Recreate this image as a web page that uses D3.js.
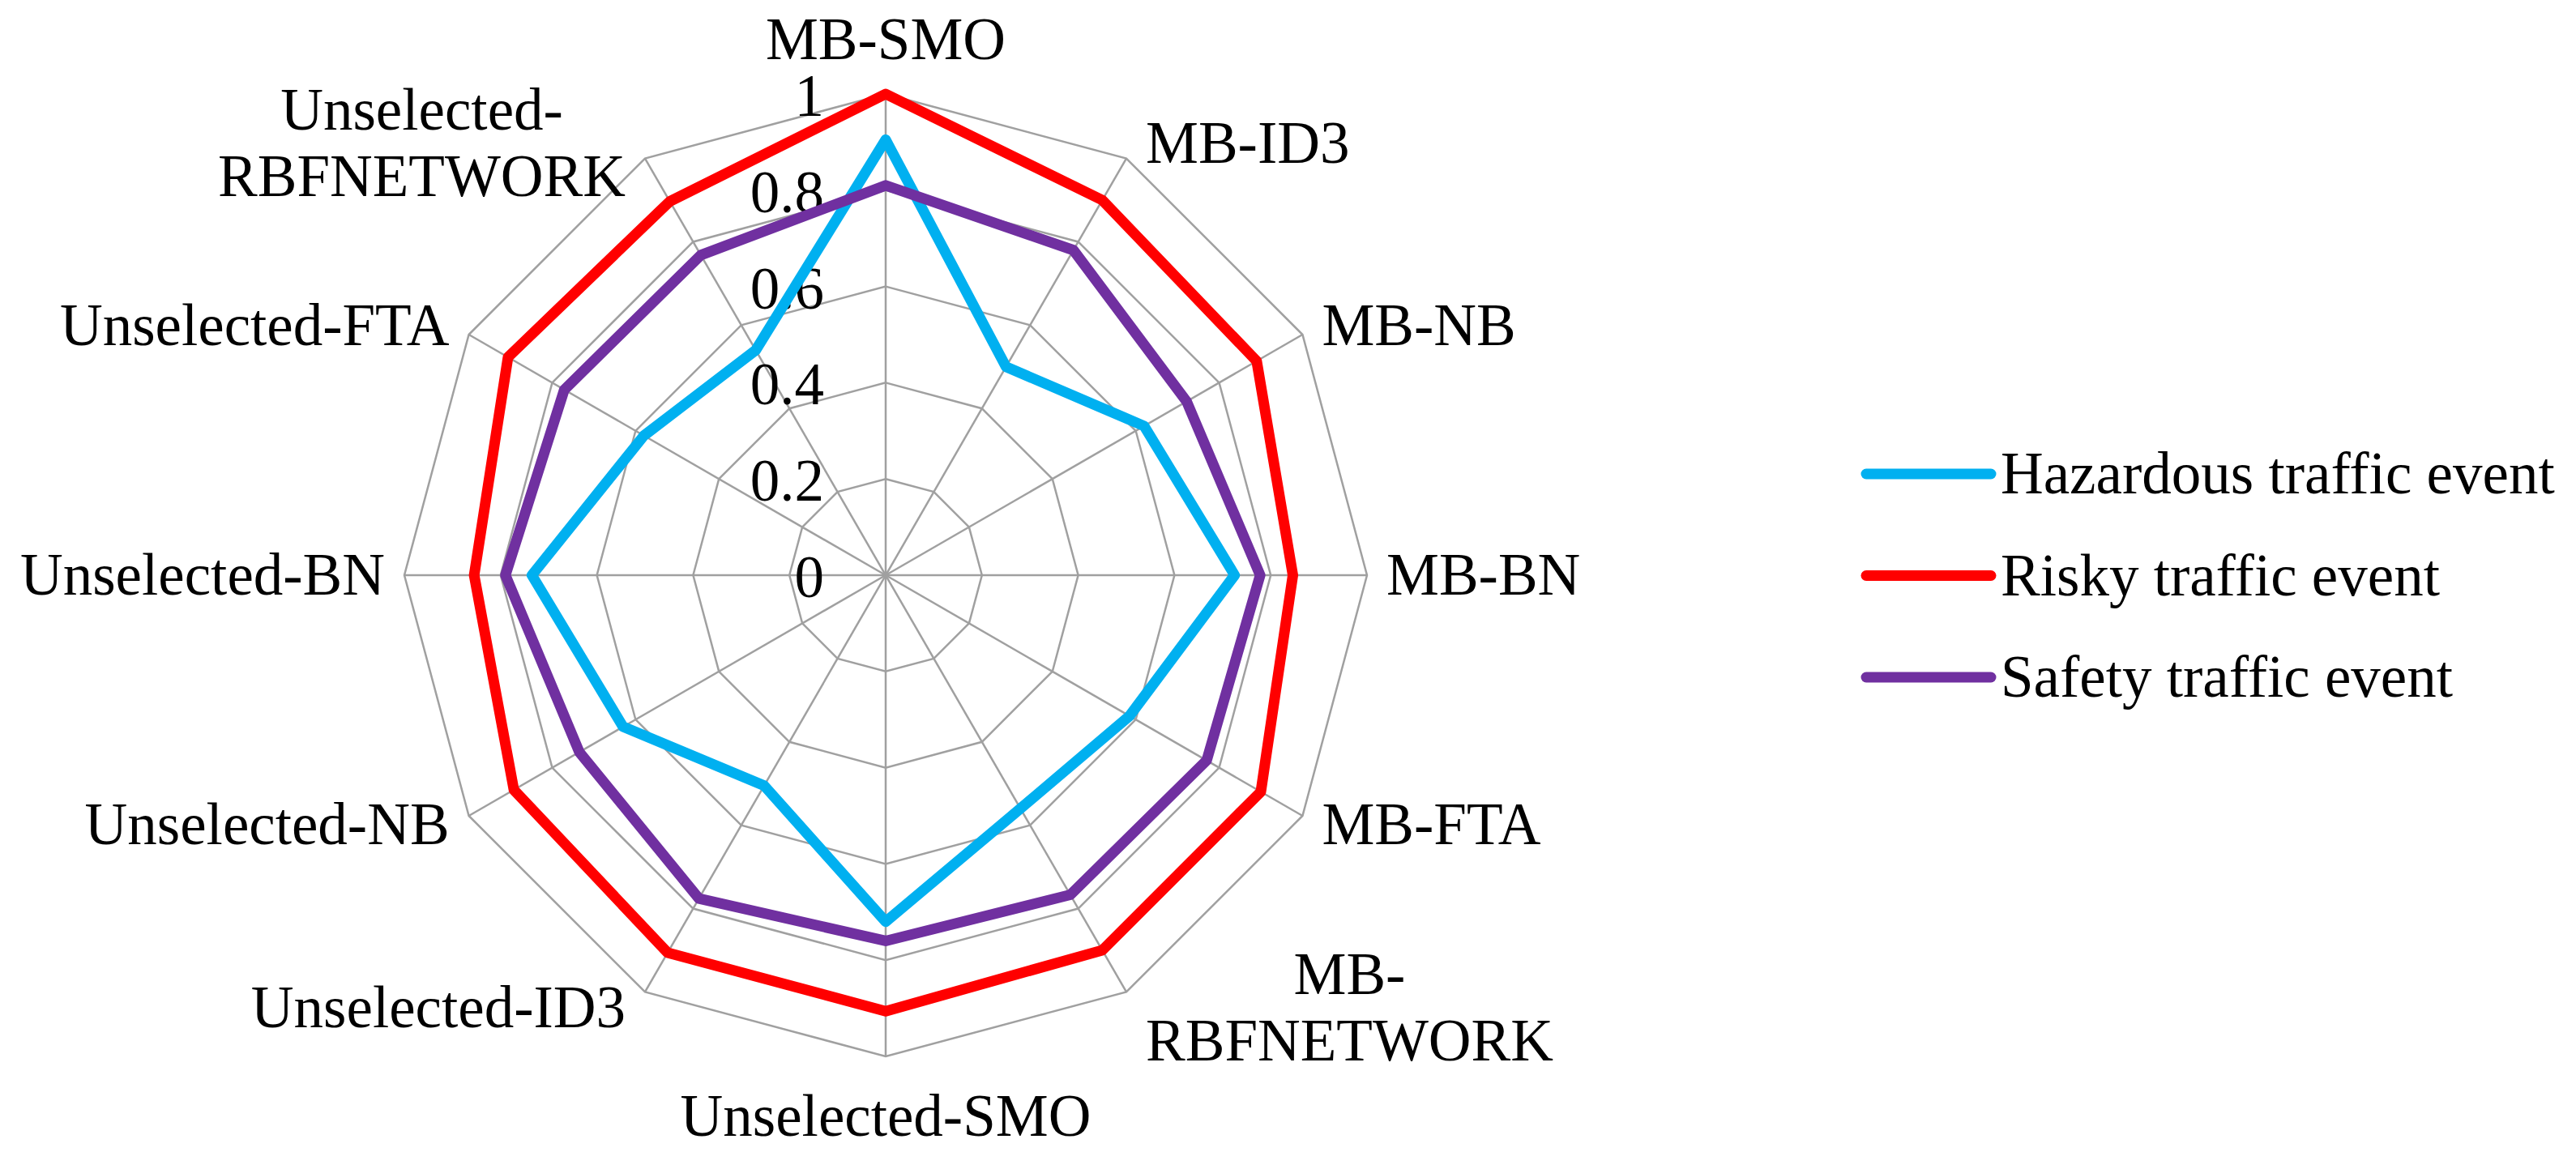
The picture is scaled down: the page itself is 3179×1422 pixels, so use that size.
<!DOCTYPE html>
<html>
<head>
<meta charset="utf-8">
<script src="https://cdn.jsdelivr.net/npm/d3@7"></script>
<style>
  body { margin: 0; background: #fff; }
  text { font-family: "Times New Roman", "Liberation Serif", serif; fill: #000; }
</style>
</head>
<body>
<div id="chart"></div>
<script>
//radar chart of the three traffic event classes, one axis per classifier

//categories, clockwise from the top
var categories = ["MB-SMO", "MB-ID3", "MB-NB", "MB-BN", "MB-FTA", "MB-RBFNETWORK",
  "Unselected-SMO", "Unselected-ID3", "Unselected-NB", "Unselected-BN", "Unselected-FTA", "Unselected-RBFNETWORK"];

//series values
var hazardous = [0.905, 0.50, 0.62, 0.725, 0.585, 0.56, 0.72, 0.505, 0.63, 0.735, 0.58, 0.54];
var risky     = [1.00, 0.90, 0.89, 0.846, 0.90, 0.90, 0.906, 0.906, 0.892, 0.855, 0.906, 0.897];
var safety    = [0.81, 0.78, 0.722, 0.778, 0.77, 0.767, 0.76, 0.776, 0.735, 0.79, 0.771, 0.768];

var seriesNames = ["Hazardous traffic event", "Risky traffic event", "Safety traffic event"];
var seriesColors = ["#00B0F0", "#FF0000", "#7030A0"];

//radial tick values and their labels
var ticks = [0, 0.2, 0.4, 0.6, 0.8, 1];
var tickLabels = ["0", "0.2", "0.4", "0.6", "0.8", "1"];

//sizes
var W = 3179, H = 1422;
var cx = 1093, cy = 710, R = 594;
var fontSize = 73;
var lineW = 13;

var svg = d3.select("#chart").append("svg")
  .attr("width", W).attr("height", H)
  .style("display", "block");

var rScale = d3.scaleLinear().domain([0, 1]).range([0, R]);
var angle = d3.scaleLinear().domain([0, categories.length]).range([0, 2 * Math.PI]);

var g = svg.append("g").attr("transform", "translate(" + cx + "," + cy + ")");

function pt(i, v) {
  var a = angle(i);
  return [rScale(v) * Math.sin(a), -rScale(v) * Math.cos(a)];
}

//grid rings
var ring = d3.lineRadial()
  .angle(function(d, i) { return angle(i); })
  .radius(function(d) { return rScale(d); })
  .curve(d3.curveLinearClosed);

g.selectAll("path.ring")
  .data(ticks.slice(1)).enter()
  .append("path")
    .attr("class", "ring")
    .attr("d", function(t) { return ring(categories.map(function() { return t; })); })
    .attr("fill", "none")
    .attr("stroke", "#a0a0a0")
    .attr("stroke-width", 2.5);

//spokes
g.selectAll("line.spoke")
  .data(categories).enter()
  .append("line")
    .attr("class", "spoke")
    .attr("x1", 0).attr("y1", 0)
    .attr("x2", function(d, i) { return pt(i, 1)[0]; })
    .attr("y2", function(d, i) { return pt(i, 1)[1]; })
    .attr("stroke", "#a0a0a0")
    .attr("stroke-width", 2.5);

//tick labels, left of the vertical axis
g.selectAll("text.tick")
  .data(ticks).enter()
  .append("text")
    .attr("class", "tick")
    .attr("x", -76)
    .attr("y", function(t) { return -rScale(t) + 27; })
    .attr("text-anchor", "end")
    .style("font-size", fontSize + "px")
    .text(function(t, i) { return tickLabels[i]; });

//series
var seriesData = [hazardous, risky, safety];
var line = d3.lineRadial()
  .angle(function(d, i) { return angle(i); })
  .radius(function(d) { return rScale(d); })
  .curve(d3.curveLinearClosed);

g.selectAll("path.series")
  .data(seriesData).enter()
  .append("path")
    .attr("class", "series")
    .attr("d", line)
    .attr("fill", "none")
    .attr("stroke", function(d, i) { return seriesColors[i]; })
    .attr("stroke-width", lineW)
    .attr("stroke-linejoin", "round");

//category labels, wrapped after the hyphen when too wide
var maxLabelW = 520, lineH = 82, capH = 0.66 * fontSize;
categories.forEach(function(name, i) {
  var a = angle(i);
  var s = Math.sin(a), c = Math.cos(a);
  var v = pt(i, 1);
  var t = g.append("text").style("font-size", fontSize + "px");

  var lines = [name];
  var probe = t.text(name).node().getComputedTextLength();
  if (probe > maxLabelW && name.indexOf("-") > 0) {
    var k = name.indexOf("-") + 1;
    lines = [name.slice(0, k), name.slice(k)];
  }
  t.text(null);
  var widths = lines.map(function(l) { t.text(l); return t.node().getComputedTextLength(); });
  t.text(null);
  var blockW = d3.max(widths);

  //horizontal placement
  var x, anchor = "middle";
  if (Math.abs(s) < 0.1) {
    x = v[0];
  } else if (s > 0) {
    x = v[0] + 24 + blockW / 2;
  } else {
    x = v[0] - 24 - blockW / 2;
  }

  //vertical centre of the block (cap height based)
  var blockH = capH + (lines.length - 1) * lineH;
  var yc;
  if (Math.abs(s) < 0.1 && c > 0) {
    yc = v[1] - 43 - blockH / 2;
  } else if (Math.abs(s) < 0.1 && c < 0) {
    yc = v[1] + 50 + blockH / 2;
  } else {
    yc = v[1] - 22 * c;
  }
  var firstBase = yc - blockH / 2 + capH;

  lines.forEach(function(l, j) {
    t.append("tspan")
      .attr("x", x)
      .attr("y", firstBase + j * lineH)
      .attr("text-anchor", anchor)
      .text(l);
  });
});

//legend
var legend = svg.append("g").attr("transform", "translate(2303,585)");
var items = legend.selectAll("g.item")
  .data(seriesNames).enter()
  .append("g")
    .attr("class", "item")
    .attr("transform", function(d, i) { return "translate(0," + (i * 125.5) + ")"; });

items.append("line")
  .attr("x1", 0).attr("x2", 154)
  .attr("y1", 0).attr("y2", 0)
  .attr("stroke", function(d, i) { return seriesColors[i]; })
  .attr("stroke-width", lineW)
  .attr("stroke-linecap", "round");

items.append("text")
  .attr("x", 166)
  .attr("y", 24)
  .style("font-size", fontSize + "px")
  .text(function(d) { return d; });
</script>
</body>
</html>
